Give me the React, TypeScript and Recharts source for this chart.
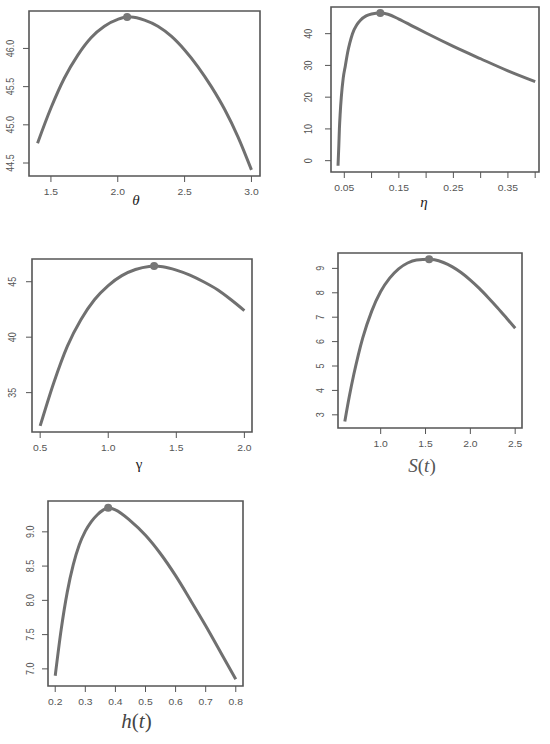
import React from 'react';
import { ComposedChart, Line, XAxis, YAxis, ReferenceArea, ReferenceDot } from 'recharts';

// ---- theta panel ----
const thetaX = [1.4, 1.5, 1.6, 1.7, 1.8, 1.9, 2.0, 2.07, 2.1, 2.2, 2.3, 2.4, 2.5, 2.6, 2.7, 2.8, 2.9, 3.0];
const thetaY = [44.76, 45.22, 45.61, 45.91, 46.14, 46.29, 46.38, 46.41, 46.41, 46.37, 46.29, 46.16, 45.98, 45.76, 45.5, 45.2, 44.84, 44.41];
const thetaPeak = [2.07, 46.41];
const thetaXTicks = [1.5, 2.0, 2.5, 3.0];
const thetaXLabels = ['1.5', '2.0', '2.5', '3.0'];
const thetaYTicks = [44.5, 45.0, 45.5, 46.0];
const thetaYLabels = ['44.5', '45.0', '45.5', '46.0'];

// ---- eta panel ----
const etaX = [0.0385, 0.04, 0.041, 0.0425, 0.0445, 0.048, 0.052, 0.056, 0.06, 0.065, 0.073, 0.08, 0.09, 0.1, 0.116, 0.13, 0.15, 0.175, 0.2, 0.25, 0.3, 0.35, 0.4];
const etaY = [-1.6, 5, 10, 15, 20, 26, 30, 34, 37, 40, 42.8, 44.3, 45.6, 46.2, 46.5, 46.1, 44.6, 42.4, 40.2, 36.0, 32.1, 28.3, 24.9];
const etaPeak = [0.116, 46.5];
const etaXTicks = [0.05, 0.1, 0.15, 0.2, 0.25, 0.3, 0.35, 0.4];
const etaXLabels = ['0.05', '', '0.15', '', '0.25', '', '0.35', ''];
const etaYTicks = [0, 10, 20, 30, 40];
const etaYLabels = ['0', '10', '20', '30', '40'];

// ---- gamma panel ----
const gammaX = [0.5, 0.6, 0.7, 0.8, 0.9, 1.0, 1.1, 1.2, 1.3, 1.337, 1.4, 1.5, 1.6, 1.7, 1.8, 1.9, 2.0];
const gammaY = [32.0, 35.9, 39.2, 41.6, 43.4, 44.66, 45.55, 46.1, 46.38, 46.41, 46.35, 46.05, 45.6, 45.0, 44.3, 43.4, 42.4];
const gammaPeak = [1.337, 46.41];
const gammaXTicks = [0.5, 1.0, 1.5, 2.0];
const gammaXLabels = ['0.5', '1.0', '1.5', '2.0'];
const gammaYTicks = [35, 40, 45];
const gammaYLabels = ['35', '40', '45'];

// ---- S(t) panel ----
const sX = [0.6, 0.65, 0.7, 0.75, 0.8, 0.9, 1.0, 1.1, 1.2, 1.3, 1.4, 1.54, 1.6, 1.7, 1.8, 1.9, 2.0, 2.1, 2.2, 2.3, 2.4, 2.5];
const sY = [2.73, 3.75, 4.65, 5.45, 6.15, 7.25, 8.05, 8.6, 8.98, 9.22, 9.34, 9.37, 9.35, 9.24, 9.06, 8.82, 8.52, 8.18, 7.8, 7.4, 6.98, 6.55];
const sPeak = [1.54, 9.37];
const sXTicks = [1.0, 1.5, 2.0, 2.5];
const sXLabels = ['1.0', '1.5', '2.0', '2.5'];
const sYTicks = [3, 4, 5, 6, 7, 8, 9];
const sYLabels = ['3', '4', '5', '6', '7', '8', '9'];

// ---- h(t) panel ----
const hX = [0.2, 0.22, 0.24, 0.26, 0.28, 0.3, 0.32, 0.34, 0.36, 0.376, 0.4, 0.45, 0.5, 0.55, 0.6, 0.65, 0.7, 0.75, 0.8];
const hY = [6.9, 7.58, 8.12, 8.52, 8.81, 9.01, 9.15, 9.25, 9.32, 9.35, 9.32, 9.16, 8.95, 8.68, 8.36, 8.0, 7.63, 7.24, 6.85];
const hPeak = [0.376, 9.35];
const hXTicks = [0.2, 0.3, 0.4, 0.5, 0.6, 0.7, 0.8];
const hXLabels = ['0.2', '0.3', '0.4', '0.5', '0.6', '0.7', '0.8'];
const hYTicks = [7.0, 7.5, 8.0, 8.5, 9.0];
const hYLabels = ['7.0', '7.5', '8.0', '8.5', '9.0'];

const TICK_FONT = '"Liberation Sans", Arial, Helvetica, sans-serif';
const SERIF = '"Liberation Serif", "DejaVu Serif", serif';
const TICK_COLOR = '#555';
const BOX_COLOR = '#555';
const LINE_COLOR = '#707070';

type Box = { l: number; r: number; t: number; b: number };

type PanelProps = {
  xs: number[];
  ys: number[];
  peak: number[];
  xDomain: [number, number];
  yDomain: [number, number];
  xTicks: number[];
  xLabels: string[];
  yTicks: number[];
  yLabels: string[];
  box: Box;
  yGap: number;
  title: (cx: number, baseY: number) => React.ReactNode;
  titleDx: number;
  titleDy: number;
};

const ML = 40;
const MT = 5;

function Panel(p: PanelProps) {
  const pw = p.box.r - p.box.l;
  const ph = p.box.b - p.box.t;
  const w = pw + ML + 5;
  const h = ph + MT + 60;
  const data = p.xs.map((x, i) => ({ x, y: p.ys[i] }));

  const XTick = (props: any) => {
    const { x, y, index, payload } = props;
    let i = p.xTicks.indexOf(payload?.value);
    if (i < 0) i = index;
    const label = p.xLabels[i] ?? '';
    return (
      <text
        transform={`translate(${x},${y + 13}) scale(1.15,1)`}
        textAnchor="middle"
        fontSize={9}
        fill={TICK_COLOR}
        fontFamily={TICK_FONT}
      >
        {label}
      </text>
    );
  };

  const YTick = (props: any) => {
    const { x, y, index, payload } = props;
    let i = p.yTicks.indexOf(payload?.value);
    if (i < 0) i = index;
    const label = p.yLabels[i] ?? '';
    return (
      <text
        transform={`translate(${x - (p.yGap - 6)},${y}) scale(1.15,1) rotate(-90)`}
        textAnchor="middle"
        fontSize={9}
        fill={TICK_COLOR}
        fontFamily={TICK_FONT}
      >
        {label}
      </text>
    );
  };

  const titleContent = () => p.title(ML + pw / 2 + p.titleDx, MT + ph + p.titleDy);

  return (
    <div style={{ position: 'absolute', left: p.box.l - ML, top: p.box.t - MT, width: w, height: h }}>
      <ComposedChart width={w} height={h} data={data} margin={{ top: MT, right: 5, left: 0, bottom: 0 }}>
        <XAxis
          dataKey="x"
          type="number"
          domain={p.xDomain}
          ticks={p.xTicks}
          interval={0}
          allowDataOverflow
          axisLine={false}
          tickLine={{ stroke: BOX_COLOR, strokeWidth: 1 }}
          tickSize={6}
          tickMargin={0}
          height={60}
          tick={XTick}
          label={{ content: titleContent }}
        />
        <YAxis
          type="number"
          domain={p.yDomain}
          ticks={p.yTicks}
          interval={0}
          allowDataOverflow
          axisLine={false}
          tickLine={{ stroke: BOX_COLOR, strokeWidth: 1 }}
          tickSize={6}
          tickMargin={0}
          width={ML}
          tick={YTick}
        />
        <ReferenceArea
          x1={p.xDomain[0]}
          x2={p.xDomain[1]}
          y1={p.yDomain[0]}
          y2={p.yDomain[1]}
          fill="none"
          fillOpacity={0}
          stroke={BOX_COLOR}
          strokeWidth={1.6}
          ifOverflow="visible"
        />
        <Line
          dataKey="y"
          type="monotone"
          stroke={LINE_COLOR}
          strokeWidth={3}
          dot={false}
          activeDot={false}
          isAnimationActive={false}
        />
        <ReferenceDot x={p.peak[0]} y={p.peak[1]} r={4} fill="#777" stroke="none" ifOverflow="visible" />
      </ComposedChart>
    </div>
  );
}

const thetaTitle = (cx: number, y: number) => (
  <text x={cx} y={y} textAnchor="middle" fontFamily={SERIF} fontStyle="italic" fontSize={15} fill="#222">θ</text>
);
const etaTitle = (cx: number, y: number) => (
  <text x={cx} y={y} textAnchor="middle" fontFamily={SERIF} fontStyle="italic" fontSize={15} fill="#222">η</text>
);
const gammaTitle = (cx: number, y: number) => (
  <text x={cx} y={y} textAnchor="middle" fontFamily={SERIF} fontSize={15} fill="#222">γ</text>
);
const sTitle = (cx: number, y: number) => (
  <text x={cx} y={y} textAnchor="middle" fontFamily={SERIF} fontSize={19} fill="#555">
    <tspan fontStyle="italic">S</tspan>(<tspan fontStyle="italic">t</tspan>)
  </text>
);
const hTitle = (cx: number, y: number) => (
  <text x={cx} y={y} textAnchor="middle" fontFamily={SERIF} fontSize={21} fill="#444">
    <tspan fontStyle="italic">h</tspan>(<tspan fontStyle="italic">t</tspan>)
  </text>
);

export default function App() {
  return (
    <div style={{ position: 'absolute', left: 0, top: 0, width: 550, height: 744, background: '#fff', overflow: 'hidden' }}>
      <Panel
        xs={thetaX} ys={thetaY} peak={thetaPeak}
        xDomain={[1.336, 3.064]} yDomain={[44.33, 46.49]}
        xTicks={thetaXTicks} xLabels={thetaXLabels} yTicks={thetaYTicks} yLabels={thetaYLabels}
        box={{ l: 29, r: 260, t: 11, b: 176 }} yGap={15.5}
        title={thetaTitle} titleDx={-8.5} titleDy={29}
      />
      <Panel
        xs={etaX} ys={etaY} peak={etaPeak}
        xDomain={[0.0256, 0.407]} yDomain={[-3.57, 48.4]}
        xTicks={etaXTicks} xLabels={etaXLabels} yTicks={etaYTicks} yLabels={etaYLabels}
        box={{ l: 331, r: 539, t: 7, b: 172 }} yGap={19}
        title={etaTitle} titleDx={-11} titleDy={35}
      />
      <Panel
        xs={gammaX} ys={gammaY} peak={gammaPeak}
        xDomain={[0.44, 2.056]} yDomain={[31.45, 47.05]}
        xTicks={gammaXTicks} xLabels={gammaXLabels} yTicks={gammaYTicks} yLabels={gammaYLabels}
        box={{ l: 32, r: 252, t: 259, b: 432 }} yGap={15.6}
        title={gammaTitle} titleDx={-3} titleDy={37}
      />
      <Panel
        xs={sX} ys={sY} peak={sPeak}
        xDomain={[0.524, 2.576]} yDomain={[2.46, 9.63]}
        xTicks={sXTicks} xLabels={sXLabels} yTicks={sYTicks} yLabels={sYLabels}
        box={{ l: 338, r: 522, t: 253, b: 428 }} yGap={14.4}
        title={sTitle} titleDx={-8} titleDy={44}
      />
      <Panel
        xs={hX} ys={hY} peak={hPeak}
        xDomain={[0.176, 0.824]} yDomain={[6.75, 9.45]}
        xTicks={hXTicks} xLabels={hXLabels} yTicks={hYTicks} yLabels={hYLabels}
        box={{ l: 48, r: 243, t: 501, b: 686 }} yGap={14.4}
        title={hTitle} titleDx={-9} titleDy={42}
      />
    </div>
  );
}
